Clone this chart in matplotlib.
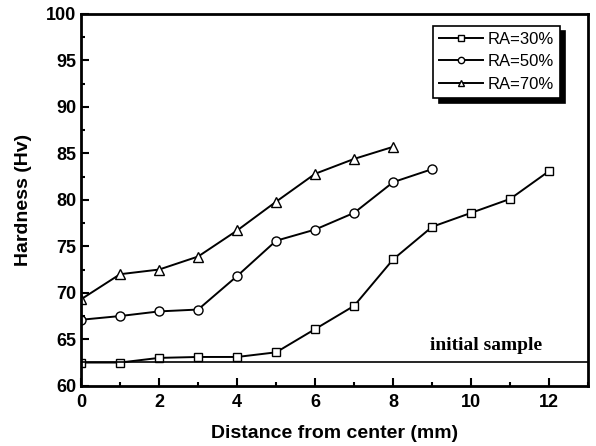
import matplotlib.pyplot as plt
from matplotlib.ticker import MultipleLocator

plt.rcParams['font.family'] = ['Liberation Sans', 'DejaVu Sans']

dist30 = [0, 1, 2, 3, 4, 5, 6, 7, 8, 9, 10, 11, 12]
hv30 = [62.5, 62.5, 63.0, 63.1, 63.1, 63.6, 66.1, 68.6, 73.6, 77.1, 78.6, 80.1, 83.1]
dist50 = [0, 1, 2, 3, 4, 5, 6, 7, 8, 9]
hv50 = [67.1, 67.5, 68.0, 68.2, 71.8, 75.6, 76.8, 78.6, 81.9, 83.3]
dist70 = [0, 1, 2, 3, 4, 5, 6, 7, 8]
hv70 = [69.3, 72.0, 72.5, 73.9, 76.7, 79.8, 82.8, 84.4, 85.7]
initial_hv = 62.6

fig = plt.figure(figsize=(5.96, 4.46), dpi=100)
ax = fig.add_axes([0.136, 0.135, 0.851, 0.834])

ax.plot(dist30, hv30, '-s', color='black', lw=1.4, ms=6, mfc='white', mec='black', mew=1.0, label='RA=30%')
ax.plot(dist50, hv50, '-o', color='black', lw=1.4, ms=6.5, mfc='white', mec='black', mew=1.0, label='RA=50%')
ax.plot(dist70, hv70, '-^', color='black', lw=1.4, ms=7, mfc='white', mec='black', mew=1.0, label='RA=70%')
ax.axhline(initial_hv, color='black', lw=1.2)
ax.text(8.95, 63.8, 'initial sample', family='Liberation Serif', fontweight='bold', fontsize=14)

ax.set_xlim(0, 13)
ax.set_ylim(60, 100)
ax.xaxis.set_major_locator(MultipleLocator(2))
ax.xaxis.set_minor_locator(MultipleLocator(1))
ax.yaxis.set_major_locator(MultipleLocator(5))
ax.yaxis.set_minor_locator(MultipleLocator(2.5))
ax.tick_params(which='both', direction='in', width=1.5, labelsize=13)
ax.tick_params(which='major', length=6)
ax.tick_params(which='minor', length=3)
ax.tick_params(axis='x', pad=6)
for lab in ax.get_xticklabels() + ax.get_yticklabels():
    lab.set_fontweight('bold')
for s in ax.spines.values():
    s.set_linewidth(2)

ax.set_xlabel('Distance from center (mm)', fontsize=14, fontweight='bold', labelpad=10)
ax.set_ylabel('Hardness (Hv)', fontsize=14, fontweight='bold', labelpad=10)

leg = ax.legend(loc='upper right', bbox_to_anchor=(0.96, 0.99), fontsize=12, frameon=True,
                fancybox=False, shadow={'color': 'black', 'alpha': 1, 'ox': 4, 'oy': -4},
                edgecolor='black', framealpha=1, markerscale=0.7,
                handlelength=2.6, handletextpad=0.3, borderpad=0.35, labelspacing=0.45)
leg.get_frame().set_linewidth(1.2)

fig.savefig('out.png', dpi=100)
